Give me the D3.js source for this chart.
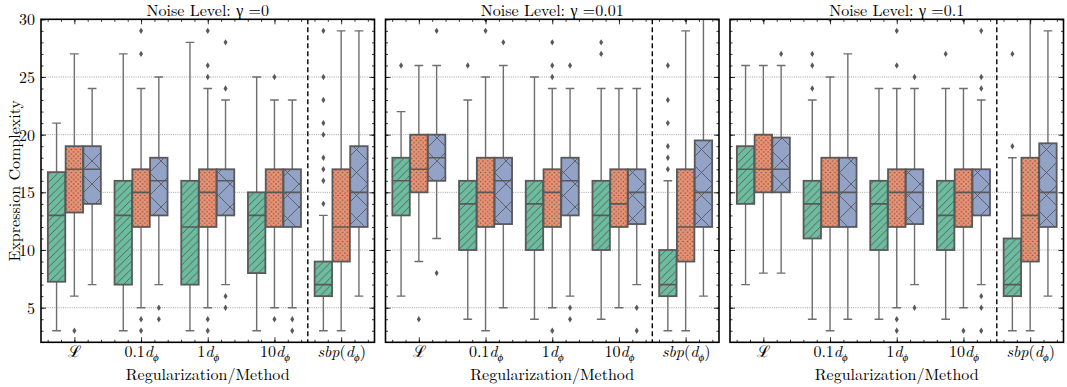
<!DOCTYPE html>
<html><head><meta charset="utf-8">
<script src="https://cdn.jsdelivr.net/npm/d3@7/dist/d3.min.js"></script>
<style>
body{margin:0;background:#fff}
svg{display:block}
</style>
</head><body>
<svg id="chart" width="1067" height="387"></svg>
<script>
// ---------------- DATA ----------------
const categories = ["L", "0.1", "1", "10", "sbp"];
const hueNames = ["hatched", "dotted", "crossed"];
const panelTitles = ["Noise Level: \u03b3 =0", "Noise Level: \u03b3 =0.01", "Noise Level: \u03b3 =0.1"];
const yTicks = [5, 10, 15, 20, 25, 30];
const yMinorTicks = d3.range(3, 31);
const xMinorTicks = d3.range(-0.4, 4.41, 0.2);

// box stats per category, per hue: [lower whisker, Q1, median, Q3, upper whisker]
const boxesGamma0 = [
  [[3, 7.25, 13, 16.75, 21], [6, 13.25, 17, 19, 27], [7, 14, 17, 19, 24]],
  [[3, 7, 13, 16, 27], [5, 12, 15, 17, 24], [7, 13, 16, 18, 25]],
  [[3, 7, 12, 16, 28], [5, 12, 15, 17, 24], [7, 13, 16, 17, 23]],
  [[3, 8, 13, 15, 25], [5, 12, 15, 17, 23], [5, 12, 15, 17, 23]],
  [[3, 6, 7, 9, 13], [3, 9, 12, 17, 29], [6, 12, 15, 19, 29]]
];
const fliersGamma0 = [
  [[], [3], []],
  [[], [27, 29, 4, 3], [5, 4]],
  [[], [25, 26, 29, 4, 3], [24, 28, 6, 5]],
  [[], [25, 4], [4, 3]],
  [[14, 16, 17, 18, 20, 21, 23, 25, 29], [], []]
];
const boxesGamma001 = [
  [[6, 13, 16, 18, 22], [9, 15, 17, 20, 26], [11, 16, 18, 20, 26]],
  [[4, 10, 14, 16, 23], [3, 12, 15, 18, 25], [5, 12.25, 16, 18, 26]],
  [[4, 10, 14, 16, 25], [5, 12, 15, 17, 24], [6, 13, 16, 18, 24]],
  [[4, 10, 13, 16, 24], [5, 12, 14, 17, 24], [7, 12.25, 15, 17, 24]],
  [[3, 6, 7, 10, 16], [3, 9, 12, 17, 29], [6, 12, 15, 19.5, 31]]
];
const fliersGamma001 = [
  [[26], [4], [29, 8]],
  [[26], [29, 30], [28]],
  [[], [25, 26, 28, 3], [26, 5, 4]],
  [[27, 28], [], [5, 3]],
  [[17, 18, 19, 21, 23, 26], [30], []]
];
const boxesGamma01 = [
  [[7, 14, 17, 19, 26], [8, 15, 17, 20, 26], [8, 15, 17, 19.75, 26]],
  [[4, 11, 14, 16, 23], [3, 12, 15, 18, 25], [4, 12, 15, 18, 27]],
  [[4, 10, 14, 16, 24], [5, 12, 15, 17, 24], [7, 12.25, 15, 17, 24]],
  [[4, 10, 13, 16, 24], [5, 12, 15, 17, 24], [7, 13, 15, 17, 23]],
  [[3, 6, 7, 11, 18], [3, 9, 13, 18, 31], [6, 12, 15, 19.25, 29]]
];
const fliersGamma01 = [
  [[], [30], [27]],
  [[24, 26, 27], [30], []],
  [[], [26, 29, 4, 3], [25, 5]],
  [[27], [30, 3], [24, 25, 29, 6, 5, 3]],
  [[19, 27], [], []]
];

const panels = [
  {title: panelTitles[0], boxes: boxesGamma0, fliers: fliersGamma0},
  {title: panelTitles[1], boxes: boxesGamma001, fliers: fliersGamma001},
  {title: panelTitles[2], boxes: boxesGamma01, fliers: fliersGamma01}
];

// ---------------- STYLE / LAYOUT ----------------
const FONT = "'Latin Modern Roman', 'CMU Serif', 'Liberation Serif', serif";
const fills = ["#6cbc9f", "#ec9070", "#93a3c8"];
const edge = "#595959";
const panelLeft = [41, 385.5, 730];
const panelW = 333.5;
const plotTop = 19.3, plotBottom = 342.3;

const svg = d3.select("#chart").style("font-family", FONT);
const defs = svg.append("defs");

// hatch patterns
const s1 = 7.7;
const p1 = defs.append("pattern").attr("id", "hatch0").attr("patternUnits", "userSpaceOnUse")
  .attr("width", s1).attr("height", s1);
p1.append("rect").attr("width", s1).attr("height", s1).attr("fill", fills[0]);
p1.append("path").attr("d", `M0,${s1}L${s1},0M-2,2L2,-2M${s1-2},${s1+2}L${s1+2},${s1-2}`)
  .attr("stroke", edge).attr("stroke-width", 0.9).attr("fill", "none");

const s2 = 4.6;
const p2 = defs.append("pattern").attr("id", "hatch1").attr("patternUnits", "userSpaceOnUse")
  .attr("width", s2).attr("height", s2);
p2.append("rect").attr("width", s2).attr("height", s2).attr("fill", fills[1]);
[[0,0],[s2,0],[0,s2],[s2,s2],[s2/2,s2/2]].forEach(([cx,cy]) =>
  p2.append("circle").attr("cx", cx).attr("cy", cy).attr("r", 0.75).attr("fill", edge));

const s3 = 23;
const p3 = defs.append("pattern").attr("id", "hatch2").attr("patternUnits", "userSpaceOnUse")
  .attr("width", s3).attr("height", s3);
p3.append("rect").attr("width", s3).attr("height", s3).attr("fill", fills[2]);
p3.append("path").attr("d", `M0,0L${s3},${s3}M${s3},0L0,${s3}`)
  .attr("stroke", edge).attr("stroke-width", 0.9).attr("fill", "none");

const y = d3.scaleLinear().domain([2, 30]).range([plotBottom, plotTop]);

const band = 0.8 / 3;
const boxW = band * 0.98;

function labelTspans(t, cat) {
  t.text(null);
  const sub = (el) => el.append("tspan").style("font-size", "11px").style("font-style", "italic").attr("dy", 4).text("\u03d5");
  if (cat === "L") {
    t.append("tspan").text("\u2112");
  } else if (cat === "sbp") {
    t.append("tspan").style("font-style", "italic").text("sbp");
    t.append("tspan").text("(");
    t.append("tspan").style("font-style", "italic").text("d");
    sub(t);
    t.append("tspan").attr("dy", -4).text(")");
  } else {
    t.append("tspan").text(cat);
    t.append("tspan").style("font-style", "italic").text("d");
    sub(t);
  }
}

panels.forEach((P, pi) => {
  const L = panelLeft[pi];
  const x = d3.scaleLinear().domain([-0.5, 4.5]).range([L, L + panelW]);
  const g = svg.append("g");

  defs.append("clipPath").attr("id", "clip" + pi).append("rect")
    .attr("x", L).attr("y", plotTop).attr("width", panelW).attr("height", plotBottom - plotTop);

  // grid
  g.append("g").selectAll("line").data(yTicks.filter(t => t < 30)).join("line")
    .attr("x1", L).attr("x2", L + panelW)
    .attr("y1", d => y(d)).attr("y2", d => y(d))
    .attr("stroke", "#9a9a9a").attr("stroke-width", 0.9).attr("stroke-dasharray", "1,1.2");

  const plot = g.append("g").attr("clip-path", `url(#clip${pi})`);

  // dashed separator between 10dφ and sbp
  plot.append("line").attr("x1", x(3.5)).attr("x2", x(3.5)).attr("y1", plotTop).attr("y2", plotBottom)
    .attr("stroke", "#000").attr("stroke-width", 1.4).attr("stroke-dasharray", "5,3");

  P.boxes.forEach((cat, ci) => cat.forEach((s, hi) => {
    const pos = ci + (hi - 1) * band;
    const cx = x(pos);
    const x0 = x(pos - boxW / 2), x1 = x(pos + boxW / 2);
    const c0 = x(pos - boxW / 4), c1 = x(pos + boxW / 4);
    const [lo, q1, med, q3, hi_] = s;
    const wg = plot.append("g").attr("stroke", "#6e6e6e").attr("stroke-width", 1.4);
    wg.append("line").attr("x1", cx).attr("x2", cx).attr("y1", y(q3)).attr("y2", y(hi_));
    wg.append("line").attr("x1", cx).attr("x2", cx).attr("y1", y(q1)).attr("y2", y(lo));
    wg.append("line").attr("x1", c0).attr("x2", c1).attr("y1", y(hi_)).attr("y2", y(hi_));
    wg.append("line").attr("x1", c0).attr("x2", c1).attr("y1", y(lo)).attr("y2", y(lo));
    plot.append("rect").attr("x", x0).attr("y", y(q3)).attr("width", x1 - x0).attr("height", y(q1) - y(q3))
      .attr("fill", `url(#hatch${hi})`).attr("stroke", edge).attr("stroke-width", 1.8);
    plot.append("line").attr("x1", x0).attr("x2", x1).attr("y1", y(med)).attr("y2", y(med))
      .attr("stroke", edge).attr("stroke-width", 1.6);
    plot.selectAll(null).data(P.fliers[ci][hi]).join("path")
      .attr("transform", d => `translate(${cx},${y(d)})`)
      .attr("d", "M0,-3.2L2,0L0,3.2L-2,0Z").attr("fill", edge);
  }));

  // ticks (inward)
  const axL = g.append("g").attr("transform", `translate(${L},0)`)
    .call(d3.axisLeft(y).tickValues(yTicks).tickSize(-5).tickPadding(6).tickFormat(pi === 0 ? d3.format("d") : ""));
  g.append("g").attr("transform", `translate(${L},0)`)
    .call(d3.axisLeft(y).tickValues(yMinorTicks).tickSize(-2.5).tickFormat(""));
  g.append("g").attr("transform", `translate(${L + panelW},0)`)
    .call(d3.axisRight(y).tickValues(yTicks).tickSize(-5).tickFormat(""));
  g.append("g").attr("transform", `translate(${L + panelW},0)`)
    .call(d3.axisRight(y).tickValues(yMinorTicks).tickSize(-2.5).tickFormat(""));
  const axB = g.append("g").attr("transform", `translate(0,${plotBottom})`)
    .call(d3.axisBottom(x).tickValues(d3.range(categories.length)).tickSize(-5).tickPadding(10));
  g.append("g").attr("transform", `translate(0,${plotBottom})`)
    .call(d3.axisBottom(x).tickValues(xMinorTicks).tickSize(-2.5).tickFormat(""));
  g.append("g").attr("transform", `translate(0,${plotTop})`)
    .call(d3.axisTop(x).tickValues(d3.range(categories.length)).tickSize(-5).tickFormat(""));
  g.append("g").attr("transform", `translate(0,${plotTop})`)
    .call(d3.axisTop(x).tickValues(xMinorTicks).tickSize(-2.5).tickFormat(""));
  g.selectAll(".domain").remove();
  g.selectAll(".tick line").attr("stroke", "#000").attr("stroke-width", 0.8);
  g.selectAll(".tick text").attr("font-family", null).attr("font-size", null)
    .style("font-family", FONT).style("font-size", "16px").attr("fill", "#000");
  axL.selectAll(".tick text").attr("dy", "0.35em");
  axB.selectAll(".tick text").attr("dy", null).attr("y", 14.5)
    .each(function(d) { labelTspans(d3.select(this), categories[d]); });

  // frame
  g.append("rect").attr("x", L).attr("y", plotTop).attr("width", panelW).attr("height", plotBottom - plotTop)
    .attr("fill", "none").attr("stroke", "#000").attr("stroke-width", 1.6);

  // title
  g.append("text").attr("x", L + panelW / 2).attr("y", 16).attr("text-anchor", "middle")
    .style("font-family", FONT).style("font-size", "16px").text(P.title);
  // x label
  g.append("text").attr("x", L + panelW / 2).attr("y", 379.5).attr("text-anchor", "middle")
    .style("font-family", FONT).style("font-size", "16px").text("Regularization/Method");
});

// y label
svg.append("text").attr("transform", `translate(14,${(plotTop + plotBottom) / 2}) rotate(-90)`)
  .attr("text-anchor", "middle").attr("dy", "0.35em")
  .style("font-family", FONT).style("font-size", "16px").text("Expression Complexity");
</script>
</body></html>
